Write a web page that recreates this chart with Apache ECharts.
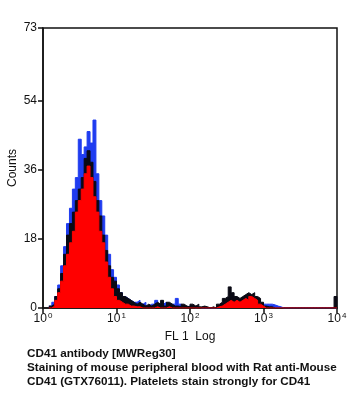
<!DOCTYPE html>
<html>
<head>
<meta charset="utf-8">
<script src="https://cdn.jsdelivr.net/npm/echarts@6/dist/echarts.min.js"></script>
<style>html,body{margin:0;padding:0;background:#fff}#c{width:348px;height:400px}</style>
</head>
<body>
<div id="c"></div>
<script>
// Channel positions (log10 of FL1 value, bin start)
var channelLog = [
 0.08,0.12,0.16,0.20,0.24,0.28,0.32,0.36,0.40,0.44,0.48,0.52,0.56,0.60,0.64,0.68,0.72,0.76,0.80,0.84,
 0.88,0.92,0.96,1.00,1.04,1.08,1.12,1.16,1.20,1.24,1.28,1.32,1.36,1.40,1.44,1.48,
 1.52,1.56,1.60,1.64,1.68,1.72,1.76,1.80,1.84,1.88,1.92,1.96,2.00,2.04,2.08,2.12,2.16,2.20,2.24,2.28,
 2.32,2.36,2.40,2.44,2.48,2.52,2.56,2.60,2.64,2.68,2.72,2.76,2.80,2.84,2.88,2.92,2.96,3.00,3.04,3.08,
 3.12,3.16,3.20,3.24,3.28,3.32,3.36,3.40,3.44,3.48,3.52,3.56,3.60,3.64,3.68,3.72,3.76,3.80,3.84,3.88,
 3.92,3.96,4.00
];
var redCounts = [
 0,0.5,2,4,7,11,14,17,20,25,28,31,35,37,34,29,25,20,17,12,
 8,5,3,2,1.5,1,1,0.5,0.5,0.3,0.3,0,0,0,0,0,
 0.3,0,0,0,0.3,0,0,0,0,0,0,0,0,0,0,0,0,0,0,0,
 0,0.3,0.5,1,1.5,2,1.5,2,1.5,2,2.5,2,3,2.5,2,1,0.5,0,0,0,
 0,0,0,0,0,0,0,0,0,0,0,0,0,0,0,0,0,0,0,0,
 0,0,0
];
var blackCounts = [
 0.5,1,3,5,9,14,19,22,25,28,31,34,39,41,38,33,28,24,19,15,
 11,8,7,5,4,3,2.5,2,1.5,1,1.5,1,0.5,1,0.5,1,
 1.5,1,2,0.5,1.5,1,0.5,0.5,0.3,1,0.5,0.3,1,0.5,1,0.3,0.5,0.3,0,0.3,
 0,1,1.5,2.5,3,5.5,4,3,2.5,3,3.5,4,3.5,4,3,2.5,1.5,0.5,0.3,0.3,
 0,0,0,0,0,0,0,0,0,0,0,0,0,0,0,0,0,0,0,0,
 0,3,0
];
var blueCounts = [
 0.5,1.5,3,6,11,16,22,26,31,34,44,40,42,46,43,49,35,28,24,19,
 14,10,8,6,4,3,2.5,2,1.5,1.5,2,1,1.5,0.5,1,1,
 2,1,1,1.5,0.5,1,1,2.5,1,0.5,0.3,0.5,0.3,0,0.3,0,0,0,0,0,
 0,0,0.3,0.5,0.5,1,0.5,0.5,0.3,0.5,0.5,0.5,0.5,0.3,0.5,0.3,0.3,1,1,1,
 0.8,0.5,0.3,0,0,0,0,0,0,0,0,0,0,0,0,0,0,0,0,0,
 0,0,0
];
var yTicks = [0,18,36,54,73];
var captionLines = [
 'CD41 antibody [MWReg30]',
 'Staining of mouse peripheral blood with Rat anti-Mouse',
 'CD41 (GTX76011). Platelets stain strongly for CD41'
];

function pairs(arr){ return channelLog.map(function(x,i){ return [x, arr[i]]; }); }

var chart = echarts.init(document.getElementById('c'), null, {renderer:'canvas'});
var font = 'Liberation Sans, Arial, sans-serif';
function histSeries(name, arr, color, z){
  return {
    name: name, type: 'line', step: 'end', data: pairs(arr), symbol: 'none', z: z,
    lineStyle: {color: color, width: 1}, areaStyle: {color: color, opacity: 1, origin: 'start'},
    animation: false
  };
}
chart.setOption({
  animation: false,
  grid: {left: 43, right: 11, top: 28, bottom: 92, outerBoundsMode: 'none', containLabel: false,
         show: true, borderColor: '#111', borderWidth: 1.5, backgroundColor: 'transparent'},
  xAxis: {
    type: 'value', min: 0, max: 4, interval: 1,
    name: 'FL 1  Log', nameLocation: 'middle', nameGap: 23, nameMoveOverlap: false,
    nameTextStyle: {fontFamily: font, fontSize: 12, color: '#111'},
    axisLine: {show: true, onZero: false, lineStyle: {color: '#111', width: 1.5}},
    axisTick: {show: true, length: 5, lineStyle: {color: '#111', width: 1.5}},
    splitLine: {show: false},
    axisLabel: {
      margin: 4, color: '#111',
      formatter: function(v){ return '{b|10}{s|' + v + '}'; },
      rich: {
        b: {fontFamily: font, fontSize: 12, color: '#111'},
        s: {fontFamily: font, fontSize: 8, color: '#111', padding: [0,0,6,1]}
      }
    }
  },
  yAxis: {
    type: 'value', min: 0, max: 73,
    name: 'Counts', nameLocation: 'middle', nameGap: 24, nameRotate: 90, nameMoveOverlap: false,
    nameTextStyle: {fontFamily: font, fontSize: 12, color: '#111'},
    axisLine: {show: true, lineStyle: {color: '#111', width: 1.5}},
    axisTick: {show: true, length: 5, customValues: yTicks, lineStyle: {color: '#111', width: 1.5}},
    splitLine: {show: false},
    axisLabel: {customValues: yTicks, margin: 6, fontFamily: font, fontSize: 12, color: '#111'}
  },
  series: [
    histSeries('blue', blueCounts, '#1f3cf0', 2),
    histSeries('black', blackCounts, '#0a0a14', 3),
    histSeries('red', redCounts, '#ff0000', 4)
  ],
  graphic: captionLines.map(function(t, i){
    return {type: 'text', left: 27, top: 348 + i*14,
      style: {text: t, fontFamily: font, fontWeight: 'bold', fontSize: 11.7, fill: '#111'}};
  })
});
</script>
</body>
</html>
